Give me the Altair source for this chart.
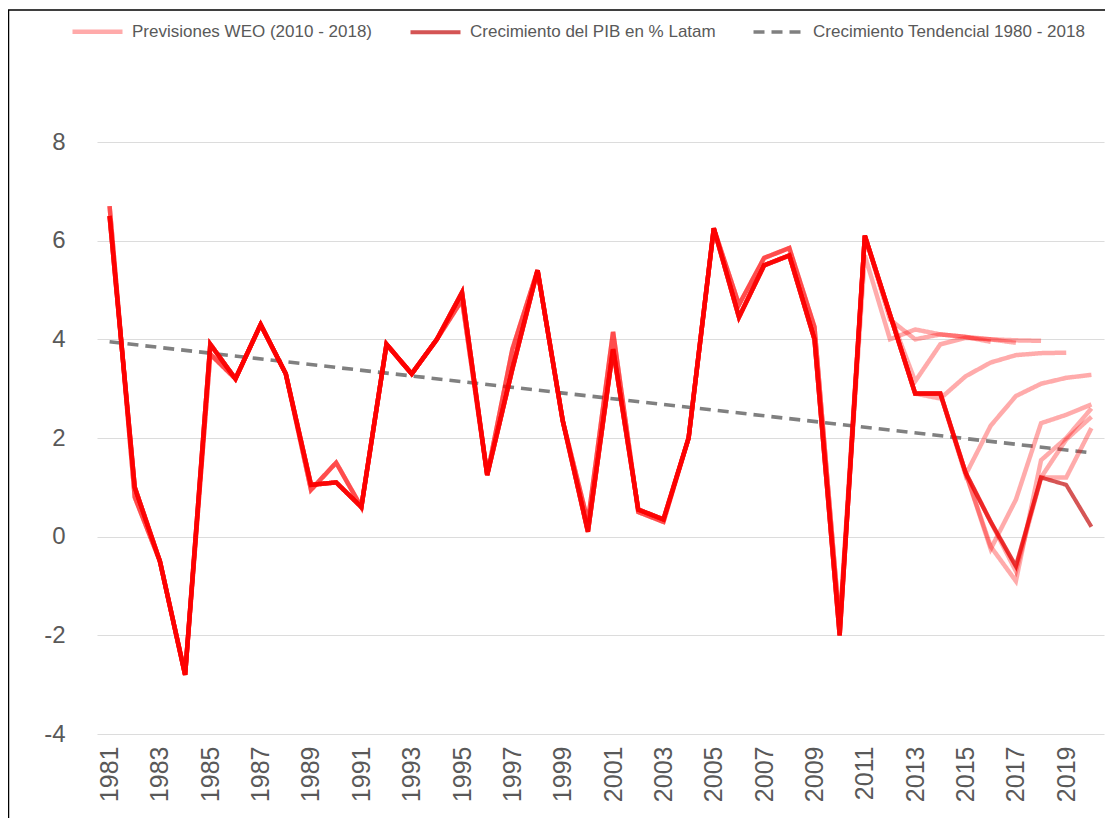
import altair as alt
import pandas as pd

# ---------------- data ----------------
years = list(range(1981, 2021))

# Crecimiento del PIB en % Latam (1981-2020 as labelled on the chart)
pib = [6.5, 1.0, -0.5, -2.8, 3.9, 3.2, 4.3, 3.3, 1.05, 1.1,
       0.6, 3.9, 3.3, 4.0, 4.95, 1.25, 3.4, 5.4, 2.35, 0.1,
       3.8, 0.55, 0.35, 2.0, 6.25, 4.45, 5.5, 5.7, 4.0, -2.0,
       6.1, 4.5, 2.9, 2.9, 1.3, 0.3, -0.6, 1.2, 1.05, 0.2]

# Historical series as published in the older WEO vintages (1981-2010)
hist_rev = [6.7, 0.8, -0.5, -2.8, 3.7, 3.2, 4.3, 3.3, 0.95, 1.5,
            0.6, 3.9, 3.3, 4.0, 4.8, 1.25, 3.8, 5.4, 2.35, 0.3,
            4.15, 0.5, 0.3, 2.0, 6.25, 4.7, 5.65, 5.85, 4.25, -1.8]

# WEO vintages: name, uses revised history, first year of its own path, values
weo_names = ["WEO 2010", "WEO 2011", "WEO 2012", "WEO 2013", "WEO 2014",
             "WEO 2015", "WEO 2016", "WEO 2017", "WEO 2018"]
weo_old_hist = [True, True, True, False, False, False, False, False, False]
weo_start = [2011, 2012, 2013, 2014, 2015, 2016, 2016, 2017, 2018]
weo_2010 = [5.7, 4.0, 4.2, 4.1, 4.05, 3.95]
weo_2011 = [4.4, 4.0, 4.1, 4.05, 4.0, 3.93]
weo_2012 = [3.15, 3.9, 4.03, 4.0, 3.98, 3.97]
weo_2013 = [2.8, 3.25, 3.53, 3.68, 3.72, 3.73]
weo_2014 = [1.25, 2.25, 2.85, 3.1, 3.22, 3.28]
weo_2015 = [-0.25, 0.75, 2.3, 2.47, 2.68]
weo_2016 = [-0.2, -0.9, 1.55, 2.0, 2.6]
weo_2017 = [-0.7, 1.2, 1.97, 2.43]
weo_2018 = [1.2, 1.2, 2.2]
weo_paths = [weo_2010, weo_2011, weo_2012, weo_2013, weo_2014,
             weo_2015, weo_2016, weo_2017, weo_2018]

# Trend 1980-2018 (straight line endpoints)
trend_years = [1981, 2020]
trend_vals = [3.95, 1.7]

y_ticks = [-4, -2, 0, 2, 4, 6, 8]
x_labels = list(range(1981, 2021, 2))

series = ["Previsiones WEO (2010 - 2018)",
          "Crecimiento del PIB en % Latam",
          "Crecimiento Tendencial 1980 - 2018"]

# ---------------- tables ----------------
main_df = pd.DataFrame({"anio": years, "valor": pib, "serie": series[1]})

rows = []
for name, old, start, path in zip(weo_names, weo_old_hist, weo_start, weo_paths):
    for i, y in enumerate(years):
        if y < start:
            if old and y <= 2010:
                v = hist_rev[i]
            else:
                v = pib[i]
        elif y - start < len(path):
            v = path[y - start]
        else:
            break
        rows.append({"anio": y, "valor": v, "serie": series[0], "vintage": name})
weo_df = pd.DataFrame(rows)

trend_df = pd.DataFrame({"anio": trend_years, "valor": trend_vals, "serie": series[2]})

# ---------------- encodings ----------------
FONT = "Liberation Sans"
legend = alt.Legend(title=None, orient="none", legendX=-27, legendY=-138,
                    direction="horizontal", columns=3, symbolType="stroke",
                    symbolSize=2500, labelFontSize=17, labelColor="#595959",
                    labelFont=FONT, labelLimit=0, columnPadding=30, labelOffset=7)

x_enc = alt.X("anio:O", scale=alt.Scale(domain=years),
              axis=alt.Axis(title=None, values=x_labels, labelAngle=-90,
                            labelFontSize=25, labelColor="#595959", labelFont=FONT,
                            labelPadding=12, domain=False, ticks=False, grid=False))
y_enc = alt.Y("valor:Q", scale=alt.Scale(domain=[-4, 8], nice=False),
              axis=alt.Axis(title=None, values=y_ticks, labelFontSize=24,
                            labelExpr="'' + datum.value",
                            labelColor="#595959", labelFont=FONT, labelPadding=32,
                            domain=False, ticks=False, grid=True,
                            gridColor="#dcdcdc", gridWidth=1.2))
color_enc = alt.Color("serie:N", scale=alt.Scale(domain=series,
                      range=["#ff0000", "#c00000", "#808080"]), legend=legend)
opac_enc = alt.Opacity("serie:N", scale=alt.Scale(domain=series, range=[0.33, 1, 1]),
                       legend=legend)
width_enc = alt.StrokeWidth("serie:N", scale=alt.Scale(domain=series, range=[4.5, 3.6, 2.8]),
                            legend=legend)
dash_enc = alt.StrokeDash("serie:N", scale=alt.Scale(domain=series,
                          range=[[1, 0], [1, 0], [11, 7]]), legend=legend)

trend = alt.Chart(trend_df).mark_line().encode(
    x=x_enc, y=y_enc, color=color_enc, opacity=opac_enc,
    strokeWidth=width_enc, strokeDash=dash_enc)

main = alt.Chart(main_df).mark_line(strokeJoin="miter").encode(
    x=x_enc, y=y_enc, color=color_enc, opacity=opac_enc,
    strokeWidth=width_enc, strokeDash=dash_enc)

weo = alt.Chart(weo_df).mark_line(strokeJoin="miter").encode(
    x=x_enc, y=y_enc, color=color_enc, opacity=opac_enc,
    strokeWidth=width_enc, strokeDash=dash_enc, detail="vintage:N")

frame = alt.Chart(alt.Data(values=[{"a": 1}])).mark_rect(
    filled=False, stroke="#000000", strokeWidth=1.5, clip=False).encode(
    x=alt.value(-88.5), x2=alt.value(1200), y=alt.value(-132), y2=alt.value(900))

chart = alt.layer(frame, trend, main, weo).properties(
    width=1007, height=592,
    padding={"left": 89, "top": 134, "right": 1, "bottom": 84},
    autosize=alt.AutoSizeParams(type="none"),
).configure_view(stroke=None)

chart.save("out.html", embed_options={"renderer": "svg", "actions": False})
